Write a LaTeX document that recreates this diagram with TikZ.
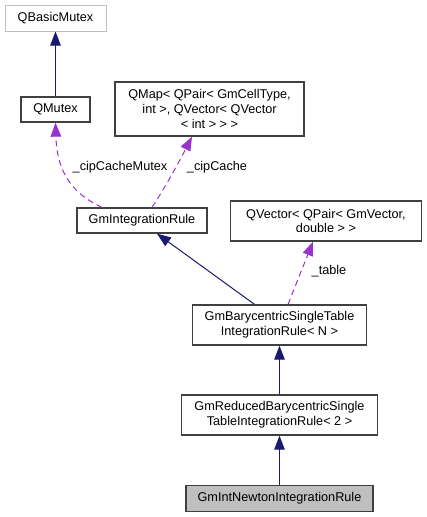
\documentclass[tikz,border=0pt]{standalone}
\usepackage{fontspec}
\setmainfont{Liberation Sans}
\usetikzlibrary{arrows.meta,positioning}
\definecolor{edgeblue}{HTML}{191970}
\definecolor{edgepurple}{HTML}{9A32CD}
\definecolor{boxgray}{HTML}{BFBFBF}

\begin{document}
\begin{tikzpicture}[x=1pt,y=-1pt,
every node/.style = {align=center, text centered, inner sep=0pt,
    font=\fontsize{12.7}{14.7}\selectfont},
cls/.style = {draw=black!75, line width=1.3pt},
inherit/.style = {draw=edgeblue, line width=1pt,
    -{Triangle[length=14pt,width=10.5pt]}},
usage/.style = {draw=edgepurple, line width=1pt, dash pattern=on 6pt off 4pt,
    -{Triangle[length=14pt,width=10.5pt]}}]
\useasboundingbox (0,0) rectangle (427,517);
% classes
\node (basic) [cls, draw=boxgray, line width=1pt, minimum width=101pt, minimum height=26pt] at (55.5,18) {QBasicMutex};
\node (mutex) [cls, minimum width=69pt, minimum height=25pt] at (55.5,109.5) {QMutex};
\node (qmap) [cls, minimum width=189pt, minimum height=54pt] at (209.5,109)
  {QMap< QPair< GmCellType,\\ int >, QVector< QVector\\< int > > >};
\node (rule) [cls, minimum width=130pt, minimum height=25pt] at (142,220.5) {GmIntegrationRule};
\node (qvec) [cls, minimum width=191pt, minimum height=40pt] at (326,221)
  {QVector< QPair< GmVector,\\double > >};
\node (bary) [cls, minimum width=174pt, minimum height=40pt] at (279.5,325)
  {GmBarycentricSingleTable\\IntegrationRule< N >};
\node (reduced) [cls, minimum width=196pt, minimum height=40pt] at (279.5,415)
  {GmReducedBarycentricSingle\\TableIntegrationRule< 2 >};
\node (newton) [cls, fill=boxgray, minimum width=187pt, minimum height=26pt] at (279.5,498.5)
  {GmIntNewtonIntegrationRule};
% edges
\draw[inherit] (mutex) -- (basic);
\draw[inherit] ([xshift=-25pt]bary.north) -- ([xshift=15pt]rule.south);
\draw[inherit] (reduced) -- (bary);
\draw[inherit] (newton) -- (reduced);
\draw[usage] ([xshift=-40pt]rule.north) .. controls (75,195) and (57,175) .. (mutex.south);
\draw[usage] ([xshift=10pt]rule.north) .. controls (165,188) and (180,160) .. ([xshift=-17.5pt]qmap.south);
\draw[usage] ([xshift=8.5pt]bary.north) -- ([xshift=-13pt]qvec.south);
% labels
\node (l1) at (120,167) {\_cipCacheMutex};
\node (l2) at (217,167) {\_cipCache};
\node (l3) at (329,271) {\_table};
\end{tikzpicture}
\end{document}
